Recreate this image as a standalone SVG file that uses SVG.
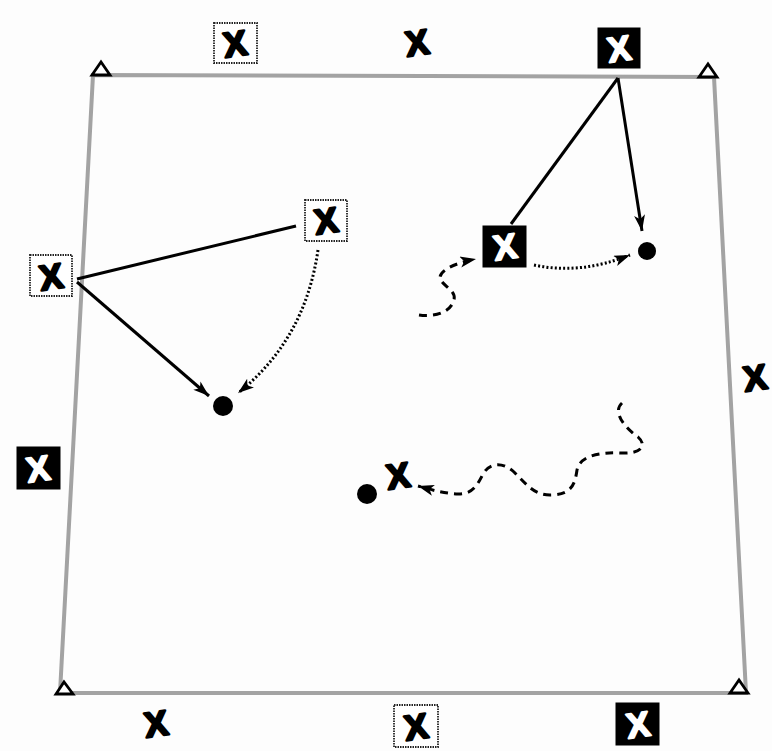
<svg xmlns="http://www.w3.org/2000/svg" width="772" height="751" viewBox="0 0 772 751">
<defs>
<style>
.field{fill:none;stroke:#a3a3a3;stroke-width:4;stroke-linejoin:miter}
.cone{fill:#fff;stroke:#000;stroke-width:2.8;stroke-linejoin:miter}
.wbox{fill:#fff;stroke:#222;stroke-width:1.8;stroke-dasharray:1.5 1}
.bbox{fill:#000;stroke:#000;stroke-width:1}
.xb{font-family:"Liberation Sans",Arial,sans-serif;font-weight:bold;font-size:35px;fill:#000;stroke:#000;stroke-width:2.5;stroke-linejoin:round;text-anchor:middle}
.xw{font-family:"Liberation Sans",Arial,sans-serif;font-weight:bold;font-size:35px;fill:#fff;stroke:#fff;stroke-width:2;stroke-linejoin:round;text-anchor:middle}
.ball{fill:#000}
.solid{fill:none;stroke:#000;stroke-width:3}
.dot{fill:none;stroke:#000;stroke-width:3;stroke-dasharray:2 2.2}
.dash{fill:none;stroke:#000;stroke-width:3;stroke-dasharray:8 6}
</style>
<marker id="arr" markerUnits="userSpaceOnUse" markerWidth="18" markerHeight="12" refX="16" refY="5.5" orient="auto">
<path d="M0,0 L16,5.5 L0,11 L4,5.5 z" fill="#000"/>
</marker>
</defs>
<rect width="772" height="751" fill="#fdfdfd"/>
<g id="field">
<polygon class="field" points="93,75 714,77 746,693 60,693"/>
<polygon class="cone" points="92,75 110,75 101,62"/>
<polygon class="cone" points="699,77 717,77 708,64"/>
<polygon class="cone" points="730,693 748,693 739,680"/>
<polygon class="cone" points="56,694 73,694 64,682"/>
</g>
<g id="connectors">
<line class="solid" x1="77" y1="279" x2="296" y2="226"/>
<line class="solid" x1="77" y1="282" x2="209" y2="396" marker-end="url(#arr)"/>
<path class="dot" d="M318,250 Q305,340 238,393" marker-end="url(#arr)"/>
<line class="solid" x1="618" y1="78" x2="511" y2="224"/>
<line class="solid" x1="618" y1="78" x2="642" y2="231" marker-end="url(#arr)"/>
<path class="dot" d="M534,265 Q580,275 630,255" marker-end="url(#arr)"/>
<path class="dash" d="M419,315 C432,317 450,314 454,300 C457,290 440,285 440,277 C441,270 455,263 476,259" marker-end="url(#arr)"/>
<path class="dash" d="M622,403 C612,412 625,428 638,437 C648,446 640,454 622,453 C598,452 580,456 577,470 C575,484 572,494 552,495 C535,496 527,485 514,472 C503,462 490,462 483,474 C477,486 472,495 456,494 C443,493 432,490 418,486" marker-end="url(#arr)"/>
</g>
<g id="n-top-white">
<rect class="wbox" x="214" y="23" width="43" height="40"/>
<text class="xb" x="235" y="56" transform="rotate(-8 235 43)">X</text>
</g>
<g id="n-top-x">
<text class="xb" x="417" y="55" transform="rotate(-8 417 42)">X</text>
</g>
<g id="n-top-black">
<rect class="bbox" x="598" y="28" width="42" height="40"/>
<text class="xw" x="619" y="61" transform="rotate(-8 619 48)">X</text>
</g>
<g id="n-left-white">
<rect class="wbox" x="30" y="255" width="42" height="41"/>
<text class="xb" x="51" y="289" transform="rotate(-8 51 276)">X</text>
</g>
<g id="n-mid-white">
<rect class="wbox" x="305" y="200" width="42" height="41"/>
<text class="xb" x="326" y="233" transform="rotate(-8 326 220)">X</text>
</g>
<g id="n-ball-left">
<circle class="ball" cx="223" cy="406" r="10"/>
</g>
<g id="n-mid-black">
<rect class="bbox" x="483" y="226" width="43" height="41"/>
<text class="xw" x="505" y="259" transform="rotate(-8 505 246)">X</text>
</g>
<g id="n-ball-right">
<circle class="ball" cx="647" cy="251" r="9"/>
</g>
<g id="n-right-x">
<text class="xb" x="755" y="390" transform="rotate(-8 755 377)">X</text>
</g>
<g id="n-left-black">
<rect class="bbox" x="17" y="447" width="43" height="42"/>
<text class="xw" x="38" y="481" transform="rotate(-8 38 468)">X</text>
</g>
<g id="n-ball-low">
<circle class="ball" cx="367" cy="494" r="10"/>
</g>
<g id="n-low-x">
<text class="xb" x="398" y="488" transform="rotate(-8 398 475)">X</text>
</g>
<g id="n-bottom-x">
<text class="xb" x="156" y="736" transform="rotate(-8 156 723)">X</text>
</g>
<g id="n-bottom-white">
<rect class="wbox" x="394" y="705" width="44" height="42"/>
<text class="xb" x="416" y="739" transform="rotate(-8 416 726)">X</text>
</g>
<g id="n-bottom-black">
<rect class="bbox" x="616" y="703" width="43" height="42"/>
<text class="xw" x="638" y="737" transform="rotate(-8 638 724)">X</text>
</g>
</svg>
